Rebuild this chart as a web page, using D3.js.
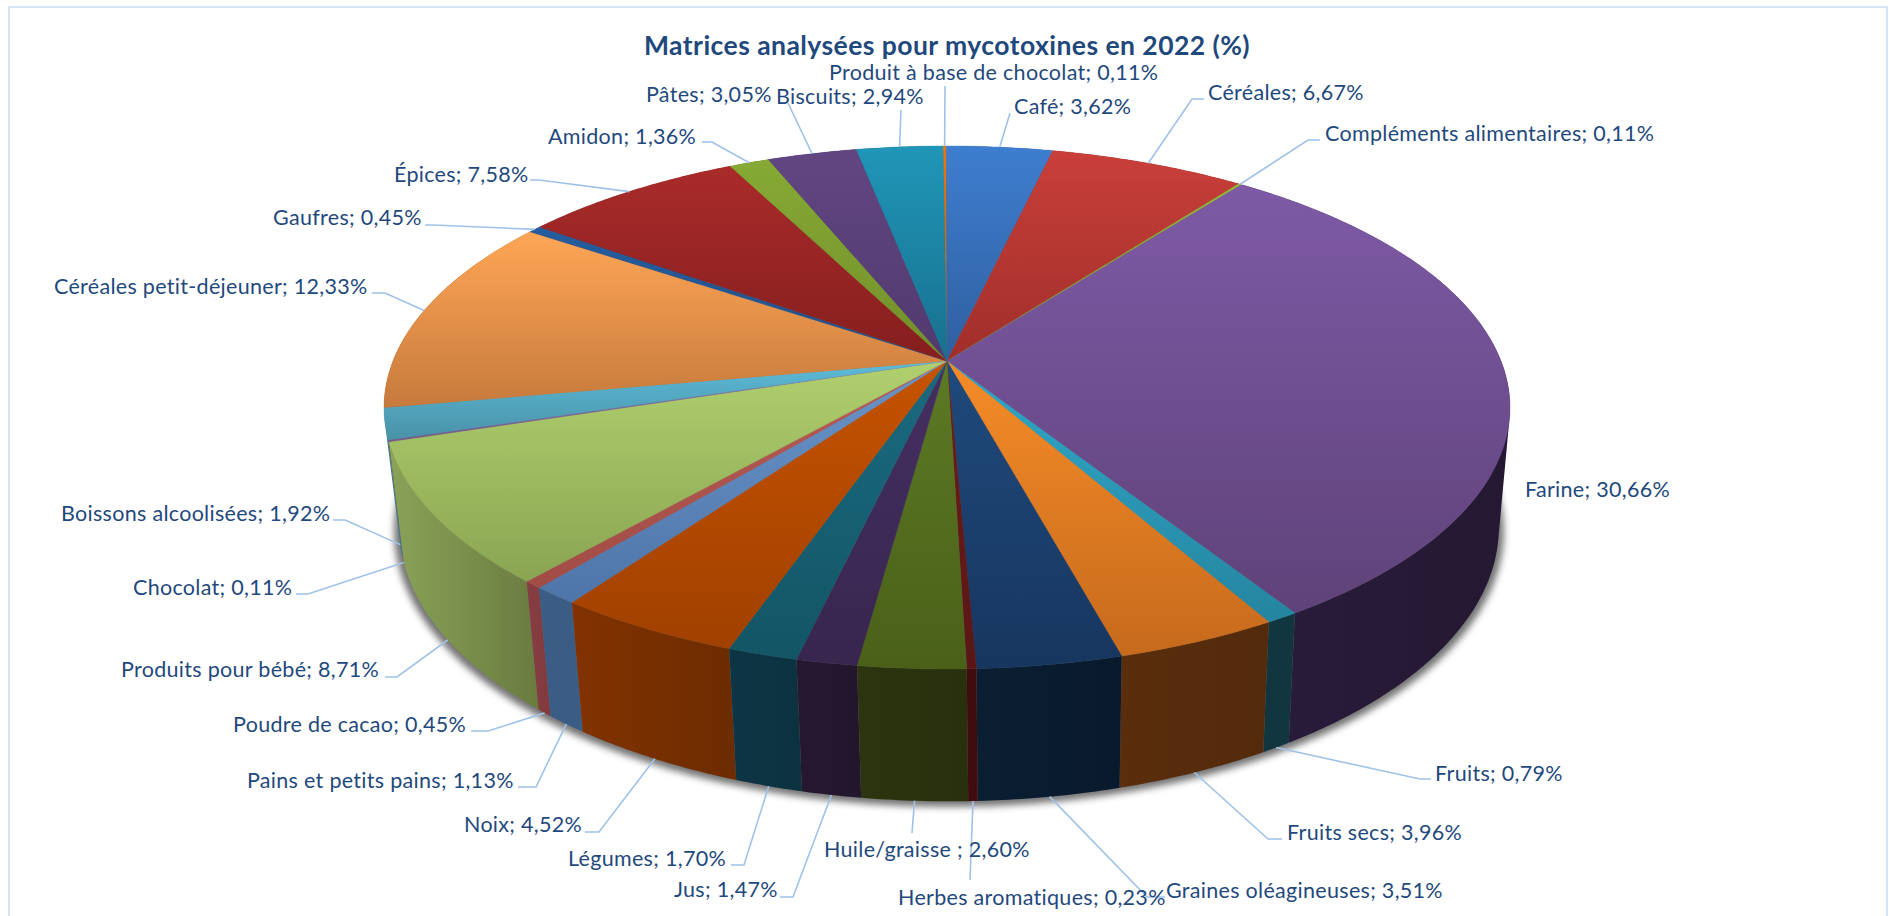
<!DOCTYPE html>
<html lang="fr">
<head>
<meta charset="utf-8">
<title>Matrices analysées pour mycotoxines en 2022</title>
<script src="https://cdn.jsdelivr.net/npm/d3@7/dist/d3.min.js"></script>
<style>
  html, body { margin: 0; padding: 0; background: #fff; overflow: hidden; }
  svg { display: block; }
  text { font-family: Lato, "Open Sans", sans-serif; fill: #1f497d; }
</style>
</head>
<body>
<script>
// Chart content
const chartTitle = "Matrices analysées pour mycotoxines en 2022 (%)";
const categories = [
  "Produit à base de chocolat", "Café", "Céréales", "Compléments alimentaires", "Farine",
  "Fruits", "Fruits secs", "Graines oléagineuses", "Herbes aromatiques", "Huile/graisse ",
  "Jus", "Légumes", "Noix", "Pains et petits pains", "Poudre de cacao",
  "Produits pour bébé", "Chocolat", "Boissons alcoolisées", "Céréales petit-déjeuner",
  "Gaufres", "Épices", "Amidon", "Pâtes", "Biscuits"
];
const shares = [
  0.11, 3.62, 6.67, 0.11, 30.66,
  0.79, 3.96, 3.51, 0.23, 2.60,
  1.47, 1.70, 4.52, 1.13, 0.45,
  8.71, 0.11, 1.92, 12.33,
  0.45, 7.58, 1.36, 3.05, 2.94
];

// Slice colours: top face (upper and lower gradient stop), rim (left and right stop)
const faceLight = [
  "#f07408", "#3e7ecf", "#c93f3a", "#94b83d", "#7e5aa6",
  "#30a8c8", "#f68c28", "#1f4a7c", "#6e1c1c", "#5c7a25",
  "#452f63", "#1a6a80", "#c65300", "#6a95ca", "#b85c56",
  "#b0d06e", "#8f6fb0", "#5dbbd8", "#ffa656",
  "#265d9e", "#a92b2a", "#86aa35", "#624682", "#2096b8"
];
const faceDark = [
  "#c85f06", "#2f5f9f", "#a02e2a", "#7d9a30", "#5f4279",
  "#2585a0", "#c66a1c", "#17365f", "#5a1616", "#4a6018",
  "#38264e", "#135565", "#a04000", "#4f75a8", "#a24c46",
  "#8aa552", "#75598f", "#4992a8", "#c67a3c",
  "#204f88", "#851e1e", "#728e2a", "#503a6e", "#18708e"
];
const rimLeft = [
  "#7a3a06", "#1e3f68", "#6a1d1c", "#50651e", "#2a1c3c",
  "#12363f", "#5a2e0d", "#0b1e32", "#3f0d0d", "#2c350f",
  "#261831", "#0c3545", "#823200", "#3b5c84", "#873e42",
  "#8aa358", "#5d4678", "#3a7a90", "#7d4c24",
  "#173a60", "#5a1414", "#4a5c1b", "#33254a", "#0f4a60"
];
const rimRight = [
  "#7a3a06", "#1e3f68", "#6a1d1c", "#50651e", "#241832",
  "#12363f", "#532a0c", "#091a2d", "#3f0d0d", "#28300d",
  "#22162d", "#0c3240", "#6c2c00", "#3b5c84", "#803a3e",
  "#6a7b40", "#5d4678", "#3a7a90", "#7d4c24",
  "#173a60", "#5a1414", "#4a5c1b", "#33254a", "#0f4a60"
];

// Label layout, one entry per category: left edge and vertical middle of the text,
// then the knee of the leader line and the end of its horizontal stub (null where absent)
const labelLeft = [
  829, 1014, 1208, 1325, 1525,
  1435, 1287, 1166, 898, 824,
  674, 568, 464, 247, 233,
  121, 133, 61, 54,
  273, 394, 548, 646, 776
];
const labelMid = [
  72, 106, 92, 133, 489,
  773, 832, 890, 897, 849,
  889, 858, 824, 780, 724,
  669, 587, 513, 286,
  217, 174, 136, 94, 96
];
const leaderKnee = [
  [945, 86], [1010, 113], [1192, 99], [1308, 140], null,
  [1420, 779], [1268, 839], [1147, 897], [970, 880], [912, 833],
  [793, 897], [744, 865], [599, 832], [536, 787], [488, 731],
  [397, 677], [308, 594], [345, 520], [385, 293],
  [433, 225], [539, 180], [712, 142], [788, 103], [901, 110]
];
const leaderStubEnd = [
  null, null, 1204, 1320, null,
  1431, 1282, 1165, null, null,
  780, 731, 585, 518, 471,
  385, 296, 333, 372,
  425, 530, 702, null, null
];

const width = 1889, height = 916;

// Perspective disc: both rims share a convergence factor, the base sits slightly off-axis
const disc = {
  persp: 0.1778,
  spin: -0.0085,
  top:    { cx: 947, x: 554, y: 253.2, y0: 361 },
  bottom: { cx: 949, x: 541, y: 265,   y0: 479 },
  shadow: { cx: 949, x: 546, y: 267,   y0: 482 }
};

function project(theta, radius, rim) {
  const u = radius * Math.sin(theta);
  const v = radius * Math.cos(theta);
  const f = 1 / (1 + disc.persp * v);
  return [rim.cx + rim.x * u * f, rim.y0 - rim.y * v * f];
}

function arcPoints(a0, a1, rim) {
  const n = Math.max(2, Math.ceil((a1 - a0) / 0.01));
  return d3.range(n + 1).map(i => project(a0 + (a1 - a0) * i / n, 1, rim));
}

const polyline = d3.line();

// The wall is a run of narrow quads wound the same way, so that the part of it
// bulging past both rims at the sides is filled as well
function wallPath(d) {
  const upper = arcPoints(d.startAngle, d.endAngle, disc.top);
  const lower = arcPoints(d.startAngle, d.endAngle, disc.bottom);
  return d3.range(upper.length - 1).map(i => {
    const quad = [upper[i], upper[i + 1], lower[i + 1], lower[i]];
    if (d3.polygonArea(quad) < 0) quad.reverse();
    return polyline(quad) + "Z";
  }).join("");
}

const slices = d3.pie().sort(null).value(d => d)
  .startAngle(disc.spin).endAngle(2 * Math.PI + disc.spin)(shares);
const middle = d => (d.startAngle + d.endAngle) / 2;

const svg = d3.select("body").append("svg").attr("width", width).attr("height", height);
const defs = svg.append("defs");

slices.forEach((s, i) => {
  const face = defs.append("linearGradient").attr("id", `face-${i}`)
    .attr("x1", 0).attr("y1", 0).attr("x2", 0).attr("y2", 1);
  face.append("stop").attr("offset", 0).attr("stop-color", faceLight[i]);
  face.append("stop").attr("offset", 1).attr("stop-color", faceDark[i]);
  const rim = defs.append("linearGradient").attr("id", `rim-${i}`)
    .attr("x1", 0).attr("y1", 0).attr("x2", 1).attr("y2", 0);
  rim.append("stop").attr("offset", 0).attr("stop-color", rimLeft[i]);
  rim.append("stop").attr("offset", 1).attr("stop-color", rimRight[i]);
});
defs.append("filter").attr("id", "soft-shadow")
  .attr("x", "-5%").attr("y", "-5%").attr("width", "110%").attr("height", "110%")
  .append("feGaussianBlur").attr("stdDeviation", 3.5);

// Outer frame
svg.append("rect")
  .attr("x", 9).attr("y", 7).attr("width", 1878).attr("height", 940)
  .attr("fill", "#fff").attr("stroke", "#d5e4f4").attr("stroke-width", 2);

// Shadow cast by the base of the disc
svg.append("path")
  .attr("d", polyline(arcPoints(0, 2 * Math.PI, disc.shadow)) + "Z")
  .attr("fill", "#3c3c3c").attr("opacity", 0.72)
  .attr("filter", "url(#soft-shadow)");

// Outer walls, painted from the back of the disc towards the viewer
const wallOrder = slices.slice().sort((a, b) =>
  Math.abs(middle(b) - Math.PI) - Math.abs(middle(a) - Math.PI));
svg.append("g").selectAll("path").data(wallOrder).join("path")
  .attr("d", wallPath)
  .attr("fill", d => `url(#rim-${d.index})`);

// Top face of every slice
svg.append("g").selectAll("path").data(slices).join("path")
  .attr("d", d => polyline([project(0, 0, disc.top)]
      .concat(arcPoints(d.startAngle, d.endAngle, disc.top))) + "Z")
  .attr("fill", d => `url(#face-${d.index})`)
  .attr("stroke", d => `url(#face-${d.index})`).attr("stroke-width", 0.4);

// Leader lines run from the rim at the slice's middle angle to the label
svg.append("g").attr("fill", "none").attr("stroke", "#9fc2e9").attr("stroke-width", 1.6)
  .selectAll("path").data(slices.filter(d => leaderKnee[d.index])).join("path")
  .attr("d", d => {
    const mid = middle(d);
    const rim = Math.cos(mid) < 0 ? disc.bottom : disc.top;
    const knee = leaderKnee[d.index];
    const pts = [project(mid, 1, rim), knee];
    if (leaderStubEnd[d.index] !== null) pts.push([leaderStubEnd[d.index], knee[1]]);
    return polyline(pts);
  });

// Data labels
const percent = v => v.toFixed(2).replace(".", ",") + "%";
svg.append("g").selectAll("text").data(slices).join("text")
  .attr("x", d => labelLeft[d.index])
  .attr("y", d => labelMid[d.index])
  .attr("dy", "0.35em")
  .attr("font-size", 21.5)
  .attr("letter-spacing", 0.3)
  .text(d => `${categories[d.index]}; ${percent(d.value)}`);

// Title
svg.append("text")
  .attr("x", 947).attr("y", 46).attr("dy", "0.35em")
  .attr("text-anchor", "middle")
  .attr("font-size", 26.5).attr("font-weight", 700)
  .attr("letter-spacing", 0.45)
  .text(chartTitle);
</script>
</body>
</html>
